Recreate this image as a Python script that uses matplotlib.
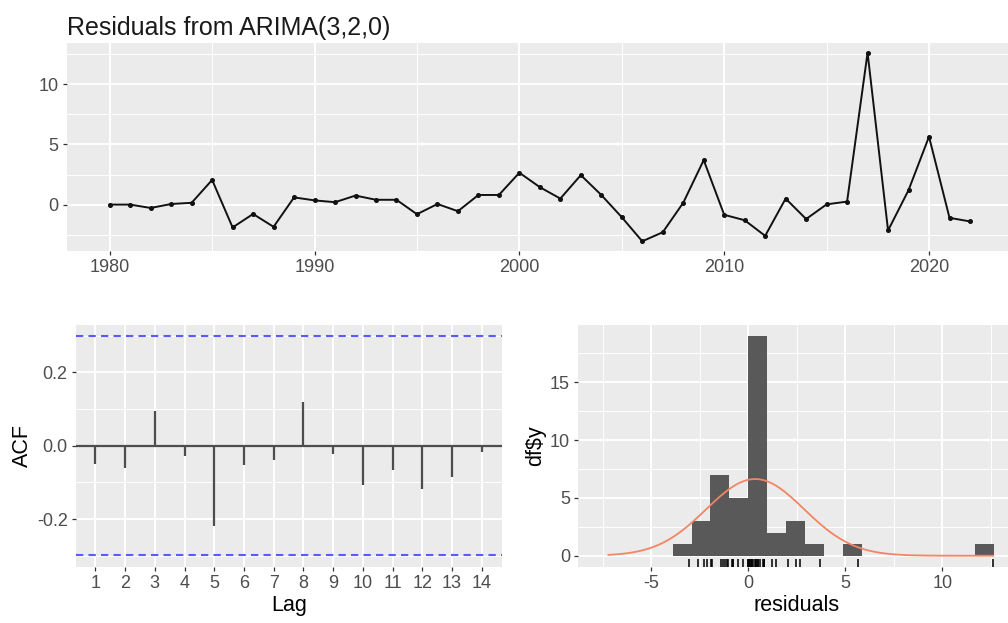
import numpy as np
import matplotlib
matplotlib.use("Agg")
import matplotlib.pyplot as plt
from matplotlib.ticker import MultipleLocator, FixedLocator

plt.rcParams['font.family'] = ['Liberation Sans', 'DejaVu Sans']
plt.rcParams['axes.unicode_minus'] = False

# residuals (1980-2022)
years = list(range(1980, 2023))
residuals = [0.0, 0.0, -0.28, 0.05, 0.15, 2.05, -1.9, -0.78, -1.85, 0.6,
             0.35, 0.2, 0.75, 0.4, 0.4, -0.8, 0.05, -0.55, 0.8, 0.8,
             2.65, 1.45, 0.5, 2.45, 0.8, -1.05, -3.05, -2.3, 0.15, 3.7,
             -0.85, -1.3, -2.6, 0.5, -1.2, 0.02, 0.25, 12.63, -2.15, 1.2,
             5.65, -1.1, -1.4]

acf_lags = list(range(1, 15))
acf_values = [-0.05, -0.062, 0.095, -0.027, -0.219, -0.054, -0.038, 0.119,
              -0.024, -0.107, -0.066, -0.118, -0.086, -0.018]

top_xticks = [1980, 1990, 2000, 2010, 2020]
top_yticks = [0, 5, 10]
acf_yticks = [-0.2, 0.0, 0.2]
hist_xticks = [-5, 0, 5, 10]
hist_yticks = [0, 5, 10, 15]

W, H = 1008, 623
fig = plt.figure(figsize=(W / 100, H / 100), dpi=100)


def add_panel(left, top, right, bottom):
    # pixel box -> figure fraction
    return fig.add_axes([left / W, 1 - bottom / H, (right - left) / W, (bottom - top) / H])


def style_panel(ax):
    ax.set_facecolor('#EBEBEB')
    for s in ax.spines.values():
        s.set_visible(False)
    ax.set_axisbelow(True)
    ax.grid(which='major', color='white', lw=1.4)
    ax.grid(which='minor', color='white', lw=0.7)
    ax.tick_params(which='major', length=3, width=0.9, color='#333333',
                   labelcolor='#4D4D4D', labelsize=13, pad=3)
    ax.tick_params(which='minor', length=0)


# --- top: residual time series ---
ax1 = add_panel(66.7, 43.3, 1013, 250.7)
style_panel(ax1)
ax1.plot(years, residuals, color='#111111', lw=1.4, marker='o', ms=2.6)
ax1.set_xlim(years[0] - 0.05 * (years[-1] - years[0]), years[-1] + 0.05 * (years[-1] - years[0]))
rlo, rhi = min(residuals), max(residuals)
ax1.set_ylim(rlo - 0.05 * (rhi - rlo), rhi + 0.05 * (rhi - rlo))
ax1.xaxis.set_major_locator(FixedLocator(top_xticks))
ax1.xaxis.set_minor_locator(MultipleLocator(5))
ax1.yaxis.set_major_locator(FixedLocator(top_yticks))
ax1.yaxis.set_minor_locator(MultipleLocator(2.5))
ax1.set_title('Residuals from ARIMA(3,2,0)', loc='left', fontsize=18, color='#1A1A1A', pad=6)

# --- bottom left: ACF ---
ax2 = add_panel(76, 325, 501.7, 566.7)
style_panel(ax2)
conf = 1.96 / np.sqrt(len(residuals))
ax2.axhline(0, color='#4D4D4D', lw=1.6, zorder=2)
ax2.vlines(acf_lags, 0, acf_values, color='#4D4D4D', lw=1.6, zorder=3)
ax2.axhline(conf, color='#5A5AFF', lw=1.5, ls=(0, (3.5, 2.5)), zorder=2)
ax2.axhline(-conf, color='#5A5AFF', lw=1.5, ls=(0, (3.5, 2.5)), zorder=2)
ax2.set_xlim(0.35, 14.67)
ax2.set_ylim(-0.33, 0.329)
ax2.xaxis.set_major_locator(FixedLocator(acf_lags))
ax2.yaxis.set_major_locator(FixedLocator(acf_yticks))
ax2.yaxis.set_minor_locator(MultipleLocator(0.1))
ax2.set_yticklabels([f'{v:.1f}' for v in acf_yticks])
ax2.set_xlabel('Lag', fontsize=15.5, labelpad=2)
ax2.set_ylabel('ACF', fontsize=15.5, labelpad=3)

# --- bottom right: histogram with normal curve and rug ---
ax3 = add_panel(578.3, 325, 1015, 566.7)
style_panel(ax3)
binwidth = 0.975
edges = -3.9 + binwidth * np.arange(18)
counts, _, _ = ax3.hist(residuals, bins=edges, color='#595959', lw=0, zorder=2)
res = np.array(residuals)
mu, sd = res.mean(), res.std(ddof=1)
xs = np.linspace(min(res.min(), mu - 3 * sd), max(res.max(), mu + 3 * sd), 100)
ys = np.exp(-0.5 * ((xs - mu) / sd) ** 2) / (sd * np.sqrt(2 * np.pi)) * len(res) * binwidth
ax3.plot(xs, ys, color='#F28563', lw=1.3, zorder=3)
ax3.vlines(res, 0, 0.03, transform=ax3.get_xaxis_transform(), color='black', lw=1.1, zorder=3)
ax3.set_xlim(-8.76, 13.75)
ax3.set_ylim(-0.05 * counts.max(), 1.05 * counts.max())
ax3.xaxis.set_major_locator(FixedLocator(hist_xticks))
ax3.xaxis.set_minor_locator(MultipleLocator(2.5))
ax3.yaxis.set_major_locator(FixedLocator(hist_yticks))
ax3.yaxis.set_minor_locator(MultipleLocator(2.5))
ax3.set_xlabel('residuals', fontsize=15.5, labelpad=2)
ax3.set_ylabel(r'df\$y', fontsize=15.5, labelpad=3)

fig.savefig('out.png', dpi=100)
